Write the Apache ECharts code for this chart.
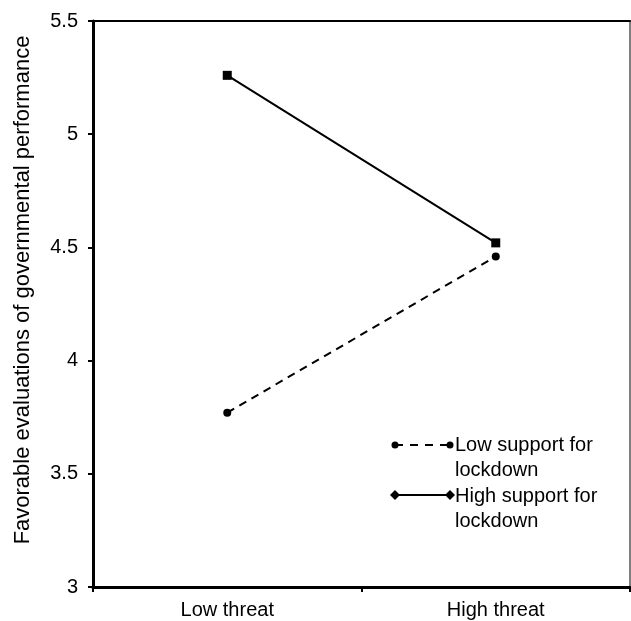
<!DOCTYPE html>
<html><head><meta charset="utf-8">
<script src="https://cdn.jsdelivr.net/npm/echarts@6/dist/echarts.min.js"></script>
<style>html,body{margin:0;padding:0;background:#fff}#c{width:631px;height:621px}</style>
</head><body><div id="c"></div>
<script>
const categories = ["Low threat", "High threat"];
const lowSupport = [3.77, 4.46];
const highSupport = [5.26, 4.52];
const seriesNames = ["Low support for lockdown", "High support for lockdown"];
const legendLabels = ["Low support for\nlockdown", "High support for\nlockdown"];
const yTicks = [3, 3.5, 4, 4.5, 5, 5.5];
const yTitle = "Favorable evaluations of governmental performance";

const chart = echarts.init(document.getElementById('c'), null, {renderer: 'canvas'});
const font = 'Liberation Sans, Arial, sans-serif';
chart.setOption({
  animation: false,
  grid: {left: 93, top: 21, right: 1, bottom: 34},
  xAxis: [{
    type: 'category', data: categories, boundaryGap: true,
    axisLine: {lineStyle: {color: '#000', width: 3}},
    axisTick: {show: true, length: 5, inside: false, alignWithLabel: false, lineStyle: {color: '#000', width: 2}},
    axisLabel: {color: '#000', fontSize: 20, fontFamily: font, margin: 13}
  }, {
    type: 'category', data: categories, position: 'top',
    axisLine: {lineStyle: {color: '#000', width: 2}},
    axisTick: {show: false}, axisLabel: {show: false}
  }],
  yAxis: [{
    type: 'value', min: 3, max: 5.5, interval: 0.5,
    splitLine: {show: false},
    axisLine: {show: true, lineStyle: {color: '#000', width: 3}},
    axisTick: {show: true, length: 5, inside: false, lineStyle: {color: '#000', width: 2}},
    axisLabel: {color: '#000', fontSize: 20, fontFamily: font, margin: 15,
      formatter: v => yTicks.includes(v) ? String(v) : ''}
  }, {
    type: 'value', min: 3, max: 5.5, position: 'right',
    splitLine: {show: false},
    axisLine: {show: true, lineStyle: {color: '#555', width: 1.5}},
    axisTick: {show: false}, axisLabel: {show: false}
  }],
  series: [{
    name: seriesNames[0], type: 'line', data: lowSupport,
    symbol: 'circle', symbolSize: 8,
    lineStyle: {color: '#000', width: 2, type: [8, 6]},
    itemStyle: {color: '#000'}
  }, {
    name: seriesNames[1], type: 'line', data: highSupport,
    symbol: 'rect', symbolSize: 9,
    lineStyle: {color: '#000', width: 2, type: 'solid'},
    itemStyle: {color: '#000'}
  }],
  graphic: [
    {type: 'text', x: 23, y: 290, rotation: Math.PI / 2,
      style: {text: yTitle, fill: '#000', font: '22px ' + font, textAlign: 'center', textVerticalAlign: 'middle'}},
    {type: 'line', shape: {x1: 395, y1: 445, x2: 450, y2: 445}, style: {stroke: '#000', lineWidth: 2, lineDash: [8, 7]}},
    {type: 'circle', shape: {cx: 395, cy: 445, r: 3.5}, style: {fill: '#000'}},
    {type: 'circle', shape: {cx: 450, cy: 445, r: 3.5}, style: {fill: '#000'}},
    {type: 'text', x: 455, y: 445, style: {text: legendLabels[0], fill: '#000', font: '20px ' + font, lineHeight: 25.5, textVerticalAlign: 'top', y: -12.75}},
    {type: 'line', shape: {x1: 395, y1: 495, x2: 450, y2: 495}, style: {stroke: '#000', lineWidth: 2}},
    {type: 'polygon', shape: {points: [[395, 490], [400, 495], [395, 500], [390, 495]]}, style: {fill: '#000'}},
    {type: 'polygon', shape: {points: [[450, 490], [455, 495], [450, 500], [445, 495]]}, style: {fill: '#000'}},
    {type: 'text', x: 455, y: 496, style: {text: legendLabels[1], fill: '#000', font: '20px ' + font, lineHeight: 25.5, textVerticalAlign: 'top', y: -12.75}}
  ]
});
</script></body></html>
